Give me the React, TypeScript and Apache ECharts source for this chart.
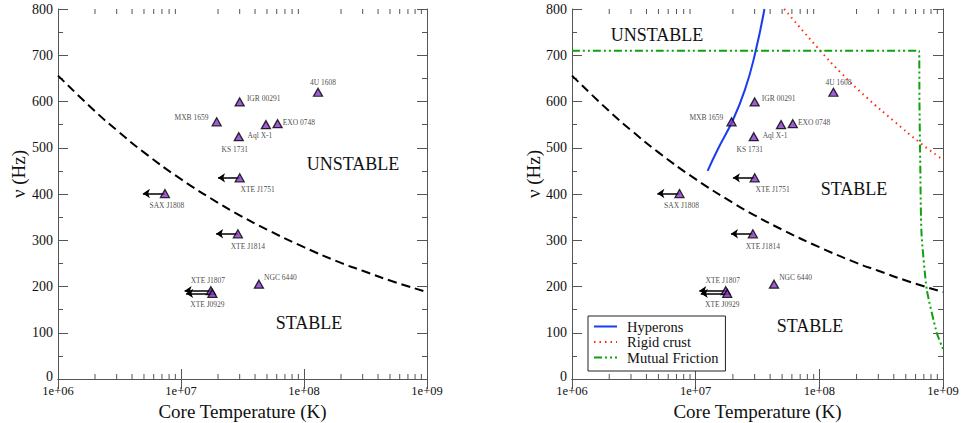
import React, { useEffect, useRef } from "react";
import * as echarts from "echarts";

// ---- data ----
const sourceNames = ["4U 1608", "IGR 00291", "MXB 1659", "Aql X-1", "EXO 0748", "KS 1731", "XTE J1751", "SAX J1808", "XTE J1814", "XTE J1807", "XTE J0929", "NGC 6440"];
const sourceTemps = [1.3e8, 3.0e7, 1.95e7, 4.9e7, 6.1e7, 2.95e7, 3.0e7, 7.4e6, 2.9e7, 1.75e7, 1.8e7, 4.3e7];
const sourceFreqs = [620, 599, 556, 550, 552, 524, 435, 401, 314, 191, 185, 205];

const limitNames = ["XTE J1751", "SAX J1808", "XTE J1814", "XTE J1807", "XTE J0929"];
const limitEndTemps = [2.0e7, 4.9e6, 1.93e7, 1.07e7, 1.1e7];

const curveTemps = [1e6, 2e6, 3e6, 5e6, 1e7, 2e7, 3e7, 5e7, 1e8, 2e8, 3e8, 5e8, 1e9];
const curveFreqs = [656, 579, 538, 490, 432, 381, 354, 323, 285, 251, 234, 213, 188];

const hyperonTemps = [1.25e7, 1.5e7, 2e7, 2.5e7, 3e7, 3.6e7];
const hyperonFreqs = [450, 495, 560, 625, 700, 800];

const crustTemps = [5.2e7, 1e8, 1.47e8, 2.43e8, 4e8, 6.5e8, 1e9];
const crustFreqs = [800, 712, 664, 608, 558, 511, 474];

const frictionTemps = [1e6, 6.4e8, 6.45e8, 6.55e8, 6.7e8, 7.4e8, 8.9e8, 1e9];
const frictionFreqs = [710, 710, 600, 460, 316, 193, 100, 65];

const xMin = 1e6;
const xMax = 1e9;
const yTicks = [0, 100, 200, 300, 400, 500, 600, 700, 800];
const minorDecades = [6, 7, 8];
const minorMultipliers = [2, 3, 4, 5, 6, 7, 8, 9];

// ---- label placement (style, not data) ----
const labelPlacement: Record<string, { position: string; offset: [number, number] }> = {
  "4U 1608": { position: "top", offset: [5, 2] },
  "IGR 00291": { position: "right", offset: [-1, -3] },
  "MXB 1659": { position: "left", offset: [0, -4] },
  "Aql X-1": { position: "bottom", offset: [-6, -1] },
  "EXO 0748": { position: "right", offset: [-3, -1] },
  "KS 1731": { position: "bottom", offset: [-4, 1] },
  "XTE J1751": { position: "bottom", offset: [18, 0] },
  "SAX J1808": { position: "bottom", offset: [2, 0] },
  "XTE J1814": { position: "bottom", offset: [10, 1] },
  "XTE J1807": { position: "top", offset: [-3, 1] },
  "XTE J0929": { position: "bottom", offset: [-5, -1] },
  "NGC 6440": { position: "right", offset: [-3, -7] },
};

const FONT = "Liberation Serif";
const AXIS_COLOR = "#555";
const TEXT_COLOR = "#111";

const fmtExp = (v: number) => {
  const e = Math.round(Math.log10(v));
  return "1e+" + (e < 10 ? "0" + e : String(e));
};

export default function App() {
  const ref = useRef<HTMLDivElement>(null);

  useEffect(() => {
    if (!ref.current) return;
    const chart = echarts.init(ref.current, null, { renderer: "svg" });

    const grids = [
      { left: 58, right: 536, top: 9, bottom: 44, outerBoundsMode: "none" },
      { left: 572, right: 20, top: 9, bottom: 44, outerBoundsMode: "none" },
    ];

    const xAxes: any[] = [];
    const yAxes: any[] = [];
    [0, 1].forEach((g) => {
      xAxes.push({
        type: "log",
        gridIndex: g,
        min: xMin,
        max: xMax,
        logBase: 10,
        position: "bottom",
        name: "Core Temperature (K)",
        nameLocation: "middle",
        nameGap: 20,
        nameTextStyle: { fontFamily: FONT, fontSize: 19, color: TEXT_COLOR },
        axisLine: { show: true, lineStyle: { color: AXIS_COLOR, width: 1 } },
        axisTick: { show: true, inside: true, length: 10, lineStyle: { color: AXIS_COLOR } },
        axisLabel: { formatter: fmtExp, fontFamily: FONT, fontSize: 12.5, color: TEXT_COLOR, margin: 5 },
        splitLine: { show: false },
      });
      yAxes.push({
        type: "value",
        gridIndex: g,
        min: 0,
        max: 800,
        interval: 100,
        position: "left",
        axisLine: { show: true, lineStyle: { color: AXIS_COLOR, width: 1 } },
        axisTick: { show: true, inside: true, length: 10, lineStyle: { color: AXIS_COLOR } },
        minorTick: { show: true, splitNumber: 2, length: 5, lineStyle: { color: AXIS_COLOR } },
        axisLabel: {
          fontFamily: FONT,
          fontSize: 14,
          color: TEXT_COLOR,
          margin: 5,
          formatter: (v: number) => (v === 0 ? "{z|0}" : yTicks.indexOf(v) >= 0 ? String(v) : ""),
          rich: { z: { fontFamily: FONT, fontSize: 14, color: TEXT_COLOR, padding: [0, 0, 6, 0] } },
        },
        splitLine: { show: false },
      });
    });
    // mirror axes
    [0, 1].forEach((g) => {
      xAxes.push({
        type: "log",
        gridIndex: g,
        min: xMin,
        max: xMax,
        logBase: 10,
        position: "top",
        axisLine: { show: true, lineStyle: { color: AXIS_COLOR, width: 1 } },
        axisTick: { show: true, inside: true, length: 10, lineStyle: { color: AXIS_COLOR } },
        axisLabel: { show: false },
        splitLine: { show: false },
      });
      yAxes.push({
        type: "value",
        gridIndex: g,
        min: 0,
        max: 800,
        interval: 100,
        position: "right",
        axisLine: { show: true, lineStyle: { color: AXIS_COLOR, width: 1 } },
        axisTick: { show: true, inside: true, length: 10, lineStyle: { color: AXIS_COLOR } },
        minorTick: { show: true, splitNumber: 2, length: 5, lineStyle: { color: AXIS_COLOR } },
        axisLabel: { show: false },
        splitLine: { show: false },
      });
    });

    const series: any[] = [];
    [0, 1].forEach((g) => {
      series.push({
        type: "line",
        xAxisIndex: g,
        yAxisIndex: g,
        data: curveTemps.map((t, i) => [t, curveFreqs[i]]),
        smooth: true,
        symbol: "none",
        lineStyle: { color: "#000", width: 2, type: [9, 5] },
        z: 2,
        silent: true,
      });
      series.push({
        type: "lines",
        coordinateSystem: "cartesian2d",
        xAxisIndex: g,
        yAxisIndex: g,
        symbol: ["none", "arrow"],
        symbolSize: 7,
        lineStyle: { color: "#000", width: 1.5, opacity: 1, curveness: 0 },
        data: limitNames.map((n, i) => {
          const k = sourceNames.indexOf(n);
          return { coords: [[sourceTemps[k], sourceFreqs[k]], [limitEndTemps[i], sourceFreqs[k]]] };
        }),
        z: 3,
        silent: true,
      });
      series.push({
        type: "scatter",
        xAxisIndex: g,
        yAxisIndex: g,
        symbol: "triangle",
        symbolSize: [9, 8],
        itemStyle: { color: "#8a35cc", borderColor: "#000", borderWidth: 1.3 },
        label: { show: true, fontFamily: FONT, fontSize: 7.5, color: TEXT_COLOR, distance: 3 },
        data: sourceNames.map((n, i) => ({
          name: n,
          value: [sourceTemps[i], sourceFreqs[i]],
          label: {
            show: true,
            formatter: n,
            color: TEXT_COLOR,
            fontFamily: FONT,
            fontSize: 7.5,
            position: labelPlacement[n].position,
            offset: labelPlacement[n].offset,
          },
        })),
        z: 4,
        silent: true,
      });
    });
    series.push({
      name: "Hyperons",
      type: "line",
      xAxisIndex: 1,
      yAxisIndex: 1,
      data: hyperonTemps.map((t, i) => [t, hyperonFreqs[i]]),
      smooth: true,
      symbol: "none",
      lineStyle: { color: "#1a3cf0", width: 2 },
      z: 2,
    });
    series.push({
      name: "Rigid crust",
      type: "line",
      xAxisIndex: 1,
      yAxisIndex: 1,
      data: crustTemps.map((t, i) => [t, crustFreqs[i]]),
      smooth: true,
      symbol: "none",
      lineStyle: { color: "#ff2a10", width: 2, type: [1.5, 4] },
      z: 2,
    });
    series.push({
      name: "Mutual Friction",
      type: "line",
      xAxisIndex: 1,
      yAxisIndex: 1,
      data: frictionTemps.map((t, i) => [t, frictionFreqs[i]]),
      smooth: 0.2,
      symbol: "none",
      lineStyle: { color: "#10a010", width: 2, type: [8, 3, 2, 3, 2, 3] },
      z: 2,
    });

    chart.setOption({
      animation: false,
      backgroundColor: "#fff",
      textStyle: { fontFamily: FONT },
      grid: grids,
      xAxis: xAxes,
      yAxis: yAxes,
      series,
      legend: {
        show: true,
        data: ["Hyperons", "Rigid crust", "Mutual Friction"],
        orient: "vertical",
        left: 588,
        top: 316,
        padding: [3, 7, 6, 5],
        itemGap: 0.5,
        itemWidth: 23,
        itemHeight: 16,
        borderColor: "#222",
        borderWidth: 1,
        borderRadius: 0,
        backgroundColor: "#fff",
        selectedMode: false,
        itemStyle: { color: "rgba(0,0,0,0)", borderColor: "rgba(0,0,0,0)", borderWidth: 0, opacity: 0 },
        textStyle: { fontFamily: FONT, fontSize: 14.5, color: TEXT_COLOR, padding: [0, 0, 0, 5] },
        z: 10,
      },
    });

    // minor ticks on log axes, placed through the axes' own scales
    const graphics: any[] = [];
    [0, 1].forEach((g) => {
      const yb = chart.convertToPixel({ yAxisIndex: g }, 0) as number;
      const yt = chart.convertToPixel({ yAxisIndex: g }, 800) as number;
      minorDecades.forEach((d) => {
        minorMultipliers.forEach((m) => {
          const x = chart.convertToPixel({ xAxisIndex: g }, m * Math.pow(10, d)) as number;
          graphics.push({
            type: "line",
            shape: { x1: x, y1: yb, x2: x, y2: yb - 5 },
            style: { stroke: AXIS_COLOR, lineWidth: 1 },
            silent: true,
          });
          graphics.push({
            type: "line",
            shape: { x1: x, y1: yt, x2: x, y2: yt + 5 },
            style: { stroke: AXIS_COLOR, lineWidth: 1 },
            silent: true,
          });
        });
      });
    });
    const region = (text: string, x: number, y: number) => ({
      type: "text",
      x,
      y,
      silent: true,
      style: { text, fontFamily: FONT, fontSize: 18, fill: TEXT_COLOR, align: "center", verticalAlign: "middle" },
    });
    graphics.push(region("UNSTABLE", 353, 164));
    graphics.push(region("STABLE", 309, 323));
    graphics.push(region("UNSTABLE", 657, 35));
    graphics.push(region("STABLE", 854, 189));
    graphics.push(region("STABLE", 810, 326));
    [18, 533].forEach((x) => {
      graphics.push({
        type: "text",
        x,
        y: 174,
        rotation: Math.PI / 2,
        silent: true,
        style: { text: "ν (Hz)", fontFamily: FONT, fontSize: 19, fill: TEXT_COLOR, align: "center", verticalAlign: "middle" },
      });
    });
    chart.setOption({ graphic: graphics });

    return () => chart.dispose();
  }, []);

  return <div ref={ref} style={{ position: "fixed", left: 0, top: 0, width: 963, height: 423, background: "#fff" }} />;
}
